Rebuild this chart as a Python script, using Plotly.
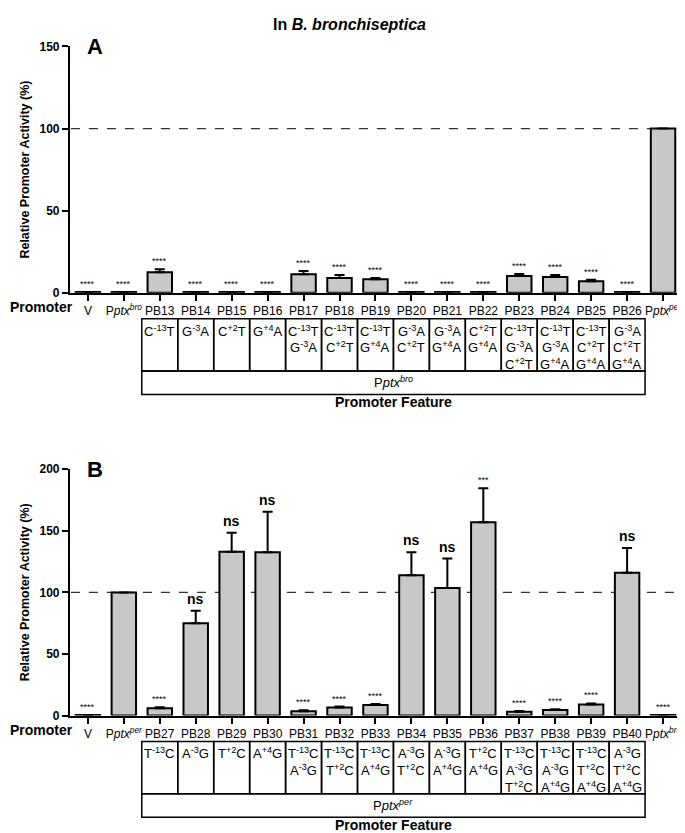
import plotly.graph_objects as go

W, H = 685, 833

# ---------------- data ----------------
cats_a = ["V", "P<i>ptx</i><sup><i>bro</i></sup>", "PB13", "PB14", "PB15", "PB16", "PB17", "PB18",
          "PB19", "PB20", "PB21", "PB22", "PB23", "PB24", "PB25", "PB26",
          "P<i>ptx</i><sup><i>per</i></sup>"]
vals_a = [0.4, 0.4, 12.5, 0.4, 0.4, 0.4, 11.3, 9.0, 8.2, 0.4, 0.4, 0.4, 10.2, 9.6, 7.0, 0.5, 100]
err_a = [0, 0, 1.8, 0, 0, 0, 2.0, 1.8, 0.8, 0, 0, 0, 1.2, 1.2, 0.9, 0, 0]
sig_a = ["****", "****", "****", "****", "****", "****", "****", "****", "****", "****",
         "****", "****", "****", "****", "****", "****", ""]

cats_b = ["V", "P<i>ptx</i><sup><i>per</i></sup>", "PB27", "PB28", "PB29", "PB30", "PB31", "PB32",
          "PB33", "PB34", "PB35", "PB36", "PB37", "PB38", "PB39", "PB40",
          "P<i>ptx</i><sup><i>bro</i></sup>"]
vals_b = [0.4, 100, 6.0, 75, 133, 132.5, 3.5, 6.5, 8.5, 114, 103.5, 157, 3.0, 4.5, 9.0, 116, 0.4]
err_b = [0, 0, 0.8, 10, 15.5, 33, 0.8, 0.8, 0.8, 18.5, 24, 27.5, 0.6, 0.6, 0.8, 20, 0]
sig_b = ["****", "", "****", "ns", "ns", "ns", "****", "****", "****", "ns", "ns", "***",
         "****", "****", "****", "ns", "****"]

feat_a = [["C<sup>-13</sup>T"], ["G<sup>-3</sup>A"], ["C<sup>+2</sup>T"], ["G<sup>+4</sup>A"],
          ["C<sup>-13</sup>T", "G<sup>-3</sup>A"], ["C<sup>-13</sup>T", "C<sup>+2</sup>T"],
          ["C<sup>-13</sup>T", "G<sup>+4</sup>A"], ["G<sup>-3</sup>A", "C<sup>+2</sup>T"],
          ["G<sup>-3</sup>A", "G<sup>+4</sup>A"], ["C<sup>+2</sup>T", "G<sup>+4</sup>A"],
          ["C<sup>-13</sup>T", "G<sup>-3</sup>A", "C<sup>+2</sup>T"],
          ["C<sup>-13</sup>T", "G<sup>-3</sup>A", "G<sup>+4</sup>A"],
          ["C<sup>-13</sup>T", "C<sup>+2</sup>T", "G<sup>+4</sup>A"],
          ["G<sup>-3</sup>A", "C<sup>+2</sup>T", "G<sup>+4</sup>A"]]
feat_b = [["T<sup>-13</sup>C"], ["A<sup>-3</sup>G"], ["T<sup>+2</sup>C"], ["A<sup>+4</sup>G"],
          ["T<sup>-13</sup>C", "A<sup>-3</sup>G"], ["T<sup>-13</sup>C", "T<sup>+2</sup>C"],
          ["T<sup>-13</sup>C", "A<sup>+4</sup>G"], ["A<sup>-3</sup>G", "T<sup>+2</sup>C"],
          ["A<sup>-3</sup>G", "A<sup>+4</sup>G"], ["T<sup>+2</sup>C", "A<sup>+4</sup>G"],
          ["T<sup>-13</sup>C", "A<sup>-3</sup>G", "T<sup>+2</sup>C"],
          ["T<sup>-13</sup>C", "A<sup>-3</sup>G", "A<sup>+4</sup>G"],
          ["T<sup>-13</sup>C", "T<sup>+2</sup>C", "A<sup>+4</sup>G"],
          ["A<sup>-3</sup>G", "T<sup>+2</sup>C", "A<sup>+4</sup>G"]]
parent_a = "P<i>ptx</i><sup><i>bro</i></sup>"
parent_b = "P<i>ptx</i><sup><i>per</i></sup>"

FONT = "Liberation Sans, Arial, sans-serif"
BAR_FILL = "#c8c8c8"


def py(p):
    return 1 - p / H


def px(p):
    return p / W


fig = go.Figure()

panels = [
    dict(cats=cats_a, vals=vals_a, err=err_a, sig=sig_a, feat=feat_a, parent=parent_a,
         xa="x", ya="y", top=32, bot=282.5, ymax=150, dtick=50, letter="A", off=0),
    dict(cats=cats_b, vals=vals_b, err=err_b, sig=sig_b, feat=feat_b, parent=parent_b,
         xa="x2", ya="y2", top=462, bot=712.5, ymax=200, dtick=50, letter="B", off=430),
]

ann = []
shapes = []
x_dom = [px(62), px(674)]

for i, p in enumerate(panels):
    fig.add_trace(go.Bar(
        x=p["cats"], y=p["vals"], xaxis=p["xa"], yaxis=p["ya"],
        marker=dict(color=BAR_FILL, line=dict(color="black", width=2)),
        width=0.68,
        error_y=dict(type="data", symmetric=False, array=p["err"],
                     arrayminus=[0] * len(p["err"]), color="black", thickness=2, width=5),
        showlegend=False, hoverinfo="skip"))

    suffix = "" if i == 0 else "2"
    fig.layout["xaxis" + suffix] = dict(
        domain=x_dom, anchor="y" + suffix, type="category", range=[-0.5, 16.5],
        showline=True, linecolor="black", linewidth=2, ticks="outside", ticklen=6,
        tickwidth=2, tickcolor="black", tickangle=0, showgrid=False, zeroline=False,
        tickfont=dict(family=FONT, size=12, color="black"))
    fig.layout["yaxis" + suffix] = dict(
        domain=[py(p["bot"]), py(p["top"])], anchor="x" + suffix, range=[0, p["ymax"]],
        dtick=p["dtick"], showline=True, linecolor="black", linewidth=2, ticks="outside",
        ticklen=6, tickwidth=2, tickcolor="black", showgrid=False, zeroline=False,
        tickfont=dict(family=FONT, size=12, color="black", weight="bold"))

    # dashed 100% reference line
    shapes.append(dict(type="line", xref="paper", yref=p["ya"], x0=px(63), x1=px(675),
                       y0=100, y1=100, line=dict(color="#333", width=1.2, dash="dash"),
                       layer="below"))

    # significance labels
    for c, v, e, s in zip(p["cats"], p["vals"], p["err"], p["sig"]):
        if not s:
            continue
        is_ns = s == "ns"
        ann.append(dict(x=c, y=v + e, xref=p["xa"], yref=p["ya"], text=s, showarrow=False,
                        xanchor="center", yanchor="bottom", yshift=2 if is_ns else 1,
                        font=dict(family=FONT, size=14 if is_ns else 9, color="black",
                                  weight="bold" if is_ns else "normal")))

    # panel letter
    ann.append(dict(x=px(77), y=py(p["top"]), xref="paper", yref="paper", text=p["letter"],
                    showarrow=False, xanchor="left", yanchor="middle",
                    font=dict(family=FONT, size=22, color="black", weight="bold")))
    # y-axis title
    ann.append(dict(x=px(17), y=py((p["top"] + p["bot"]) / 2), xref="paper", yref="paper",
                    text="Relative Promoter Activity (%)", textangle=-90, showarrow=False,
                    xanchor="center", yanchor="middle",
                    font=dict(family=FONT, size=12.5, color="black", weight="bold")))
    # "Promoter" row label
    ann.append(dict(x=0, y=py(297 + p["off"]), xref="paper", yref="paper", text="Promoter",
                    showarrow=False, xanchor="left", yanchor="middle",
                    font=dict(family=FONT, size=14, color="black", weight="bold")))

    # feature table
    t_top, t_mid, t_bot = 309 + p["off"], 362 + p["off"], 386 + p["off"]
    for j, lines in enumerate(p["feat"]):
        cidx = j + 2
        shapes.append(dict(type="rect", xref=p["xa"], yref="paper",
                           x0=cidx - 0.5, x1=cidx + 0.5, y0=py(t_mid), y1=py(t_top),
                           line=dict(color="black", width=1.5)))
        for k, t in enumerate(lines):
            ann.append(dict(x=p["cats"][cidx], xref=p["xa"], yref="paper",
                            y=py(t_top + 12 + 17 * k), text=t, showarrow=False,
                            xanchor="center", yanchor="middle",
                            font=dict(family=FONT, size=13, color="black")))
    shapes.append(dict(type="rect", xref=p["xa"], yref="paper", x0=1.5, x1=15.5,
                       y0=py(t_bot), y1=py(t_mid), line=dict(color="black", width=1.5)))
    ann.append(dict(x=8.5, xref=p["xa"], yref="paper", y=py((t_mid + t_bot) / 2 - 1),
                    text=p["parent"], showarrow=False, xanchor="center", yanchor="middle",
                    font=dict(family=FONT, size=13, color="black")))
    ann.append(dict(x=8.5, xref=p["xa"], yref="paper", y=py(t_bot + 7.5),
                    text="Promoter Feature", showarrow=False, xanchor="center",
                    yanchor="middle",
                    font=dict(family=FONT, size=14, color="black", weight="bold")))

# title
ann.append(dict(x=px(342), y=py(10), xref="paper", yref="paper",
                text="In <i>B. bronchiseptica</i>", showarrow=False, xanchor="center",
                yanchor="middle",
                font=dict(family=FONT, size=16, color="black", weight="bold")))

fig.update_layout(
    width=W, height=H, margin=dict(l=0, r=0, t=0, b=0),
    paper_bgcolor="white", plot_bgcolor="white",
    annotations=ann, shapes=shapes, bargap=0.3,
    font=dict(family=FONT, color="black"),
)

fig.write_html("out.html")
